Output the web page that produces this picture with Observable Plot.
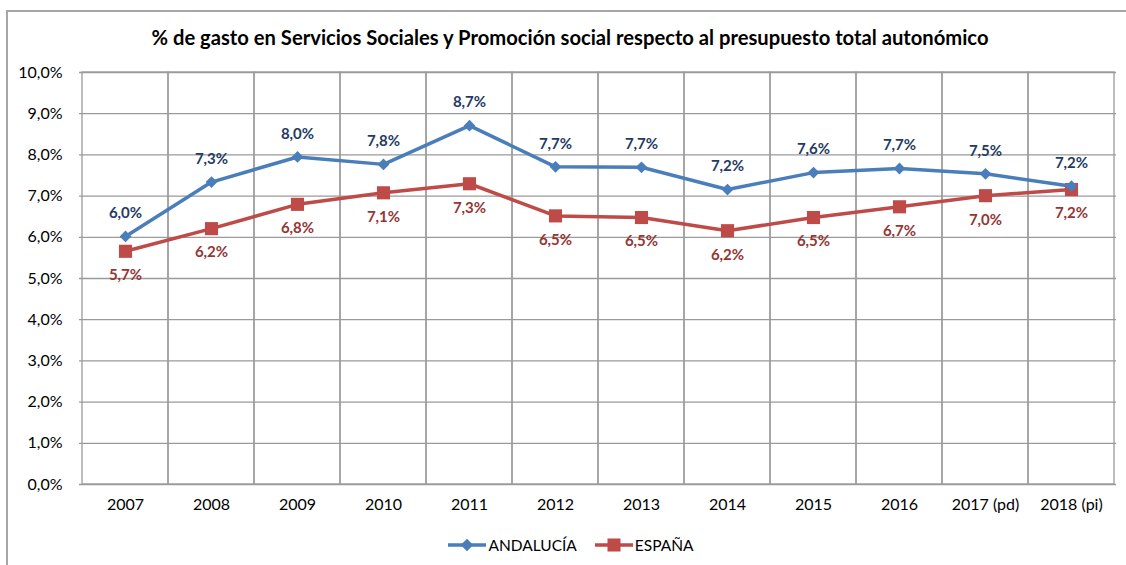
<!DOCTYPE html>
<html>
<head>
<meta charset="utf-8">
<script src="https://cdn.jsdelivr.net/npm/d3@7"></script>
<script src="https://cdn.jsdelivr.net/npm/@observablehq/plot@0.6"></script>
<style>
  html, body { margin: 0; padding: 0; background: #fff; }
  #wrap { position: relative; width: 1126px; height: 565px; overflow: hidden; font-family: Lato, "Open Sans", sans-serif; }
  #frame { position: absolute; left: 6px; top: 10px; width: 1130px; height: 570px; border-left: 2px solid #a6a6a6; border-top: 2px solid #a6a6a6; box-sizing: border-box; }
  #title { position: absolute; left: 0; width: 1140px; top: 25px; text-align: center; font-weight: bold; font-size: 20.2px; color: #000; }
  #chart { position: absolute; left: 0; top: 0; }
  #legend { position: absolute; top: 536px; left: 8px; width: 1126px; display: flex; justify-content: center; gap: 18px; font-size: 15.5px; color: #000; }
  .item { display: flex; align-items: center; gap: 2px; }
</style>
</head>
<body>
<div id="wrap">
  <div id="frame"></div>
  <div id="chart"></div>
  <div id="title"></div>
  <div id="legend"></div>
</div>
<script>
const titleText = "% de gasto en Servicios Sociales y Promoción social respecto al presupuesto total autonómico";
const years = ["2007", "2008", "2009", "2010", "2011", "2012", "2013", "2014", "2015", "2016", "2017 (pd)", "2018 (pi)"];
const seriesNames = ["ANDALUCÍA", "ESPAÑA"];
const andalucia = [6.02, 7.34, 7.95, 7.77, 8.71, 7.71, 7.70, 7.16, 7.57, 7.67, 7.54, 7.24];
const espana = [5.66, 6.21, 6.80, 7.08, 7.30, 6.52, 6.48, 6.16, 6.48, 6.74, 7.01, 7.16];
const yTicks = [0, 1, 2, 3, 4, 5, 6, 7, 8, 9, 10];

const colors = { "ANDALUCÍA": "#4a7ebb", "ESPAÑA": "#be4b48" };
const labelColors = { "ANDALUCÍA": "#1f3b64", "ESPAÑA": "#943634" };

const fmt = v => v.toFixed(1).replace(".", ",") + "%";

const data = [];
years.forEach((y, i) => {
  data.push({ year: y, series: "ANDALUCÍA", value: andalucia[i] });
  data.push({ year: y, series: "ESPAÑA", value: espana[i] });
});
const andData = data.filter(d => d.series === "ANDALUCÍA");
const espData = data.filter(d => d.series === "ESPAÑA");

document.getElementById("title").textContent = titleText;

const chart = Plot.plot({
  width: 1126,
  height: 565,
  marginLeft: 79,
  marginRight: 10,
  marginTop: 72,
  marginBottom: 81,
  style: { fontFamily: "Lato, 'Open Sans', sans-serif", fontSize: "16px", color: "#000", background: "transparent", overflow: "visible" },
  x: { type: "band", domain: years, padding: 0, label: null, tickSize: 0, tickPadding: 14 },
  y: { domain: [0, 10], label: null, ticks: yTicks, tickSize: 0, tickPadding: 17, tickFormat: v => v.toFixed(1).replace(".", ",") + "%" },
  marks: [
    Plot.barY(years, { x: d => d, y1: 0, y2: 10, fill: "none", stroke: "#9a9a9a", strokeWidth: 1.3, inset: 0 }),
    Plot.ruleY(yTicks, { stroke: "#9a9a9a", strokeWidth: 1.3 }),
    Plot.line(espData, { x: "year", y: "value", stroke: colors["ESPAÑA"], strokeWidth: 3.5 }),
    Plot.dot(espData, { x: "year", y: "value", symbol: "square", r: 7.4, fill: colors["ESPAÑA"], stroke: "none" }),
    Plot.line(andData, { x: "year", y: "value", stroke: colors["ANDALUCÍA"], strokeWidth: 3.5 }),
    Plot.dot(andData, { x: "year", y: "value", symbol: "diamond2", r: 5.3, fill: colors["ANDALUCÍA"], stroke: "none" }),
    Plot.text(andData, { x: "year", y: "value", text: d => fmt(d.value), dy: -23, fill: labelColors["ANDALUCÍA"], fontWeight: "bold", fontSize: 15 }),
    Plot.text(espData, { x: "year", y: "value", text: d => fmt(d.value), dy: 24, fill: labelColors["ESPAÑA"], fontWeight: "bold", fontSize: 15 })
  ]
});
document.getElementById("chart").appendChild(chart);

// Legend
const legend = document.getElementById("legend");
seriesNames.forEach(name => {
  const item = document.createElement("div");
  item.className = "item";
  const svg = d3.create("svg").attr("width", 38).attr("height", 16);
  svg.append("line").attr("x1", 0).attr("x2", 38).attr("y1", 8).attr("y2", 8)
    .attr("stroke", colors[name]).attr("stroke-width", 3.5);
  const sym = d3.symbol().type(name === "ESPAÑA" ? d3.symbolSquare : d3.symbolDiamond2)
    .size(name === "ESPAÑA" ? 170 : 100);
  svg.append("path").attr("d", sym()).attr("transform", "translate(19,8)").attr("fill", colors[name]);
  item.appendChild(svg.node());
  const span = document.createElement("span");
  span.textContent = name;
  item.appendChild(span);
  legend.appendChild(item);
});
</script>
</body>
</html>
